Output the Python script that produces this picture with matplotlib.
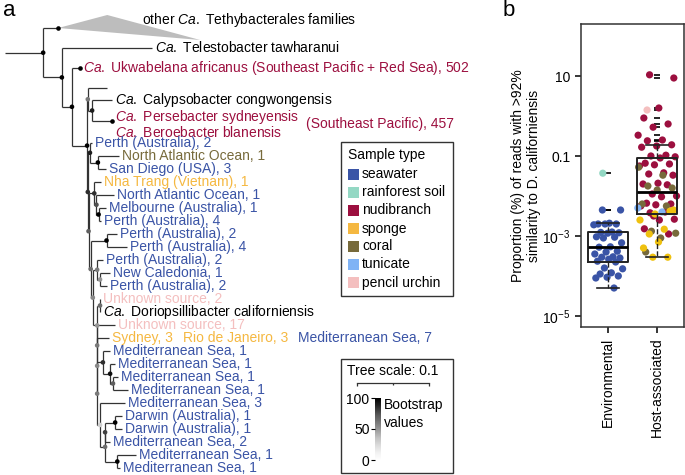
import numpy as np
import matplotlib
matplotlib.use("Agg")
import matplotlib.pyplot as plt
from matplotlib.collections import LineCollection
from matplotlib.patches import Rectangle, Polygon
from matplotlib.colors import Normalize
from matplotlib.colorbar import ColorbarBase

plt.rcParams['font.family'] = ['Liberation Sans', 'DejaVu Sans']
plt.rcParams['mathtext.fontset'] = 'custom'
plt.rcParams['mathtext.rm'] = 'Liberation Sans'
plt.rcParams['mathtext.it'] = 'Liberation Sans:italic'
plt.rcParams['font.size'] = 10

# ---------------- data: panel a (tree, branch lengths in subst./site, bootstrap on nodes)
newick = ("(t0:0.021,(t1:0.125,(t2:0.011,((t3:0.026,(t4:0.028,t5:0.028)90:0.006)60:0.001,"
          "((t6:0.003,(t7:0.029,t8:0.011)100:0.011)90:0.003,"
          "((t9:0.010,(t10:0.024,(t11:0.010,t12:0.004)100:0.003)75:0.003)85:0.008,"
          "((t13:0.015,t14:0.028)100:0.022,"
          "((t15:0.008,(t16:0.014,t17:0.010)50:0.004)60:0.006,"
          "((t18:0,t19:0)65:0.004,(t20:0.025,(t21:0.017,"
          "((t22:0.010,(t23:0.007,(t24:0.007,t25:0.021)70:0.004)95:0.010)85:0.008,"
          "(t26:0.035,(((t27:0.010,t28:0.010)100:0.014,t29:0.007)80:0,"
          "(t30:0.026,t31:0.004)100:0.017)65:0.007)30:0.004)60:0)55:0)60:0)50:0.006)55:0.003)65:0.003)70:0.001)"
          "85:0.001)100:0.021)100:0.014)100:0.026)100:0.053;")

CA = r"$\mathit{Ca.}$"
tip_labels = [
    [("other " + CA + " Tethybacterales families", None)],
    [(CA + " Telestobacter tawharanui", None)],
    [(CA + " Ukwabelana africanus (Southeast Pacific + Red Sea), 502", "nudibranch")],
    [],
    [(CA + " Calypsobacter congwongensis", None)],
    [(CA + " Persebacter sydneyensis\n" + CA + " Beroebacter blanensis", "nudibranch"),
     ("(Southeast Pacific), 457", "nudibranch")],
    [("Perth (Australia), 2", "seawater")],
    [("North Atlantic Ocean, 1", "coral")],
    [("San Diego (USA), 3", "seawater")],
    [("Nha Trang (Vietnam), 1", "sponge")],
    [("North Atlantic Ocean, 1", "seawater")],
    [("Melbourne (Australia), 1", "seawater")],
    [("Perth (Australia), 4", "seawater")],
    [("Perth (Australia), 2", "seawater")],
    [("Perth (Australia), 4", "seawater")],
    [("Perth (Australia), 2", "seawater")],
    [("New Caledonia, 1", "seawater")],
    [("Perth (Australia), 2", "seawater")],
    [("Unknown source, 2", "pencil urchin")],
    [(CA + " Doriopsillibacter californiensis", None)],
    [("Unknown source, 17", "pencil urchin")],
    [("Sydney, 3", "sponge"), ("Rio de Janeiro, 3", "sponge"), ("Mediterranean Sea, 7", "seawater")],
    [("Mediterranean Sea, 1", "seawater")],
    [("Mediterranean Sea, 1", "seawater")],
    [("Mediterranean Sea, 1", "seawater")],
    [("Mediterranean Sea, 1", "seawater")],
    [("Mediterranean Sea, 3", "seawater")],
    [("Darwin (Australia), 1", "seawater")],
    [("Darwin (Australia), 1", "seawater")],
    [("Mediterranean Sea, 2", "seawater")],
    [("Mediterranean Sea, 1", "seawater")],
    [("Mediterranean Sea, 1", "seawater")],
]
tip_marked = [0, 2, 5]
collapsed_depth = (0.068, 0.197)   # shortest / longest branch inside collapsed clade

sample_types = ["seawater", "rainforest soil", "nudibranch", "sponge", "coral", "tunicate", "pencil urchin"]
type_colors = {"seawater": "#3A54A6", "rainforest soil": "#94D8C4", "nudibranch": "#9C0F3F",
               "sponge": "#F5B841", "coral": "#776A3B", "tunicate": "#80B3F5",
               "pencil urchin": "#F4BFBF"}

# ---------------- data: panel b (log10 of proportion %)
groups = ["Environmental", "Host-associated"]
env_log = {
    "seawater": [-2.35, -2.35, -2.68, -2.70, -2.70, -2.70, -2.72, -2.90, -2.91, -2.92, -2.93,
                 -3.02, -3.03, -3.05, -3.17, -3.27, -3.28, -3.38, -3.40, -3.45, -3.52, -3.53,
                 -3.55, -3.58, -3.63, -3.65, -3.80, -3.82, -3.92, -3.95, -4.00, -4.03, -4.05, -4.30],
    "rainforest soil": [-1.43],
}
host_log = {
    "nudibranch": [1.03, 0.95, 0.20, -0.05, -0.20, -0.28, -0.48, -0.60, -0.62, -0.72, -0.75,
                   -0.78, -0.98, -1.00, -1.02, -1.05, -1.18, -1.20, -1.22, -1.25, -1.42, -1.45,
                   -1.48, -1.68, -1.70, -1.72, -1.95, -2.00, -2.02, -2.18, -2.20, -2.22, -2.25,
                   -2.40, -2.42, -2.58, -2.60, -2.82, -2.95, -2.50],
    "coral": [-1.28, -1.48, -1.75, -1.80, -1.85, -2.20, -2.25, -2.88, -2.93, -3.05, -3.40],
    "sponge": [-2.38, -2.45, -2.60, -2.83, -2.95, -2.35, -3.15, -3.30, -3.53, -3.53],
    "tunicate": [-2.30, -2.40],
    "pencil urchin": [0.15],
}
point_colors = dict(type_colors, sponge="#EFC10F")


# ---------------- tree helpers
def parse_newick(s):
    pos = 0

    def node():
        nonlocal pos
        children = []
        if s[pos] == '(':
            pos += 1
            children.append(node())
            while s[pos] == ',':
                pos += 1
                children.append(node())
            pos += 1
        start = pos
        while s[pos] not in ':,);':
            pos += 1
        name = s[start:pos]
        length = 0.0
        if s[pos] == ':':
            pos += 1
            start = pos
            while s[pos] not in ',);':
                pos += 1
            length = float(s[start:pos])
        return {'name': name, 'len': length, 'children': children}
    return node()


# leaf rows (pixel rows of the figure)
row_y = [28, 48, 68, 88, 100, 121] + [143 + 13 * k for k in range(26)]


def layout(n, x0):
    n['x'] = x0 + n['len']
    if n['children']:
        for c in n['children']:
            layout(c, n['x'])
        n['y'] = (n['children'][0]['y'] + n['children'][-1]['y']) / 2
    else:
        n['tip'] = int(n['name'][1:])
        n['y'] = row_y[n['tip']]


tree = parse_newick(newick)
layout(tree, 0.0)

segs, nodes, tips = [], [], []


def collect(n):
    if n['children']:
        ys = [c['y'] for c in n['children']]
        segs.append([(n['x'], min(ys)), (n['x'], max(ys))])
        for c in n['children']:
            segs.append([(n['x'], c['y']), (c['x'], c['y'])])
            collect(c)
        nodes.append((n['x'], n['y'], float(n['name'])))
    else:
        tips.append(n)


collect(tree)
segs.append([(0, tree['y']), (tree['x'], tree['y'])])

fig = plt.figure(figsize=(6.85, 4.75), dpi=100)
axt = fig.add_axes([0, 0, 1, 1])
axt.set_xlim(-5 / 720, 680 / 720)
axt.set_ylim(475, 0)
axt.axis('off')

cmap = plt.get_cmap('Greys')
bs_norm = Normalize(0, 100)

axt.add_collection(LineCollection(segs, colors='#333333', linewidths=0.9, zorder=2))
nx, ny, nb = zip(*nodes)
axt.scatter(nx, ny, s=11, c=cmap(bs_norm(np.array(nb))), linewidths=0, zorder=3)

for n in tips:
    i = n['tip']
    if i in tip_marked:
        axt.scatter([n['x']], [n['y']], s=11, c='black', linewidths=0, zorder=3)
    if i == 0:
        d0, d1 = collapsed_depth
        axt.add_patch(Polygon([(n['x'], n['y']), (n['x'] + d0, n['y'] - 13),
                               (n['x'] + d1, n['y'] + 12)], closed=True,
                              facecolor='#BDBDBD', edgecolor='none', zorder=1))
        axt.text(n['x'] + 0.116, n['y'] - 8, tip_labels[0][0][0], va='center', ha='left')
        continue
    prev = None
    for text, kind in tip_labels[i]:
        color = type_colors.get(kind, 'black')
        if prev is None:
            dy = 3 if '\n' in text else 0
            prev = axt.text(n['x'] + 0.004, n['y'] + dy, text, color=color, va='center',
                            ha='left', linespacing=0.92)
        else:
            gap = 7 if '\n' in prev.get_text() else 10
            prev = axt.annotate(text, xy=(1, 0.5), xycoords=prev, xytext=(gap, 0),
                                textcoords='offset pixels', va='center', ha='left', color=color)

# scale bar in tree units
sx = 0.489
axt.plot([sx, sx + 0.1], [383, 383], color='#333333', lw=0.9)
axt.vlines([sx, sx + 0.05, sx + 0.1], 383, [386, 385, 386], color='#333333', lw=0.9)

# overlay in pixel coordinates for boxes
axo = fig.add_axes([0, 0, 1, 1], zorder=5)
axo.set_xlim(0, 685)
axo.set_ylim(475, 0)
axo.axis('off')
axo.patch.set_visible(False)

axo.text(3, 11, "a", fontsize=16, va='center', ha='left')
axo.text(503, 11, "b", fontsize=16, va='center', ha='left')

axo.add_patch(Rectangle((341, 142), 112, 154, fill=False, edgecolor='#333333', lw=1))
axo.text(348, 155, "Sample type", va='center', ha='left')
for k, name in enumerate(sample_types):
    yy = 174.5 + 18 * k
    axo.add_patch(Rectangle((348, yy - 5.5), 11, 11, facecolor=type_colors[name], edgecolor='none'))
    axo.text(362, yy, name, va='center', ha='left')

axo.add_patch(Rectangle((341, 359), 112, 114, fill=False, edgecolor='#333333', lw=1))
axo.text(347, 371, "Tree scale: 0.1", va='center', ha='left')
axo.text(384, 405, "Bootstrap", va='center', ha='left')
axo.text(384, 423, "values", va='center', ha='left')

cax = fig.add_axes([375 / 685, 15 / 475, 6 / 685, 62 / 475], zorder=6)
cb = ColorbarBase(cax, cmap=cmap, norm=bs_norm, orientation='vertical', ticks=[0, 50, 100])
cb.outline.set_visible(False)
cax.yaxis.set_ticks_position('left')
cax.tick_params(length=3, width=0.8, labelsize=10, pad=1)

# ---------------- panel b
axb = fig.add_axes([581 / 685, 148 / 475, 103 / 685, 303 / 475])
axb.set_yscale('log')
axb.set_ylim(10 ** -5.275, 10 ** 2.3)
axb.set_xlim(0.45, 2.55)

box_data = []
for k, d in enumerate([env_log, host_log]):
    vals, cols = [], []
    for kind, v in d.items():
        vals += v
        cols += [point_colors[kind]] * len(v)
    vals = 10 ** np.array(vals)
    n = len(vals)
    spread = 0.6 if k == 0 else 0.8
    off = ((np.arange(n) * 0.6180339887 + 0.31) % 1 - 0.5) * spread
    axb.scatter(k + 1 + off, vals, s=27, c=cols, linewidths=0, zorder=2)
    box_data.append(vals)

bp = axb.boxplot(box_data, positions=[1, 2], widths=0.8, whis=1.5, capwidths=0.45,
                 patch_artist=False, zorder=3,
                 boxprops=dict(color='#222222', lw=1.4),
                 medianprops=dict(color='black', lw=2),
                 whiskerprops=dict(color='#222222', lw=1, ls='--'),
                 capprops=dict(color='#222222', lw=1.2),
                 flierprops=dict(marker='_', markersize=5, markeredgecolor='black',
                                 markeredgewidth=1.2))
for f in bp['fliers']:
    f.set_zorder(1.5)

axb.set_yticks([1e-5, 1e-3, 1e-1, 10])
axb.set_yticklabels([r"10$^{-5}$", r"10$^{-3}$", "0.1", "10"])
axb.yaxis.set_minor_locator(matplotlib.ticker.NullLocator())
axb.set_xticks([1, 2])
axb.set_xticklabels(groups, rotation=90)
axb.tick_params(axis='both', direction='out', length=4.5, width=1.1, labelsize=10, pad=3)
axb.set_ylabel("Proportion (%) of reads with >92%\nsimilarity to D. californiensis",
               fontsize=10, labelpad=1)
for sp in axb.spines.values():
    sp.set_linewidth(1.1)
    sp.set_color('#333333')

fig.savefig("out.png", dpi=100)
